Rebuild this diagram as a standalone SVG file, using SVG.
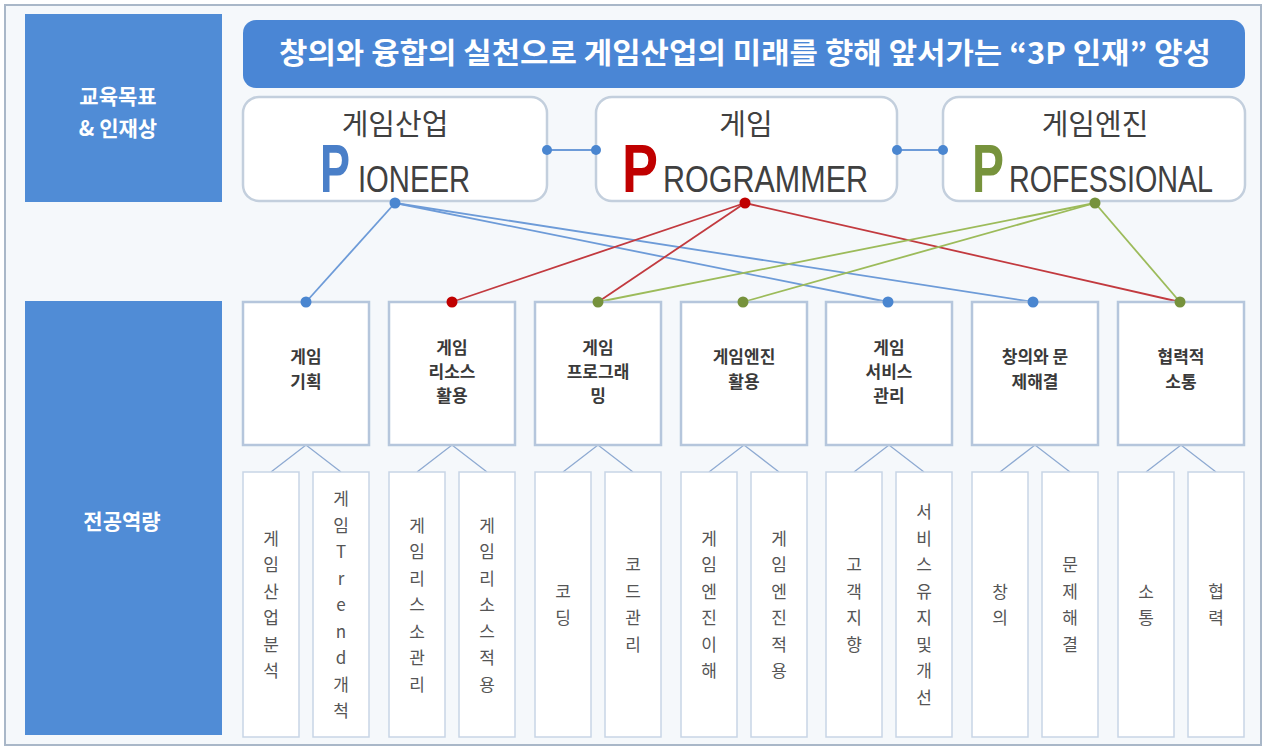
<svg xmlns="http://www.w3.org/2000/svg" width="1266" height="750" viewBox="0 0 1266 750">
<style>
.frame{fill:#f5f8fb;stroke:#a9b7c8;stroke-width:2}
.side{fill:#508cd6}
.side-t{font-family:"Noto Sans CJK KR","Noto Sans",sans-serif;font-weight:700;font-size:21px;fill:#ffffff;text-anchor:middle}
.banner{fill:#4a86d5}
.banner-t{font-family:"Noto Sans CJK KR","Noto Sans",sans-serif;font-weight:700;font-size:29px;fill:#ffffff;text-anchor:middle}
.pbox{fill:#ffffff;stroke:#c3cfdd;stroke-width:2.5}
.p-kr{font-family:"Noto Sans CJK KR","Noto Sans",sans-serif;font-size:29px;fill:#404040;text-anchor:middle}
.p-big{font-family:"Liberation Sans Narrow","Liberation Sans",sans-serif;font-weight:700;font-size:68px}
.p-rest{font-family:"Liberation Sans Narrow","Liberation Sans",sans-serif;font-size:36px;fill:#404040}
.comp{fill:#ffffff;stroke:#b5c6dc;stroke-width:2.5}
.comp-t{font-family:"Noto Sans CJK KR","Noto Sans",sans-serif;font-weight:700;font-size:17px;fill:#3a3a3a;text-anchor:middle}
.sub{fill:#ffffff;stroke:#c8d5e6;stroke-width:1.5}
.sub-t{font-family:"Noto Sans CJK KR","Noto Sans",sans-serif;font-size:17px;fill:#555555;text-anchor:middle}
.lb{stroke:#6d9bd8;stroke-width:1.8;fill:none}
.lr{stroke:#c23a3f;stroke-width:1.8;fill:none}
.lg{stroke:#9cbb5a;stroke-width:1.8;fill:none}
.ls{stroke:#8eaad2;stroke-width:1.3;fill:none}
.db{fill:#4a86d0}
.dr{fill:#c00000}
.dg{fill:#76923c}
</style>
<rect class="frame" x="5" y="5" width="1256" height="740"/>

<g id="side-goal">
<rect class="side" x="25" y="14" width="197" height="188"/>
<text class="side-t" x="118" y="104">교육목표</text>
<text class="side-t" x="118" y="136">&amp; 인재상</text>
</g>
<g id="side-comp">
<rect class="side" x="25" y="301" width="197" height="434"/>
<text class="side-t" x="122" y="529">전공역량</text>
</g>

<g id="banner">
<rect class="banner" x="243" y="20" width="1002" height="68" rx="13"/>
<text class="banner-t" x="745" y="64" textLength="932" lengthAdjust="spacingAndGlyphs">창의와 융합의 실천으로 게임산업의 미래를 향해 앞서가는 “3P 인재” 양성</text>
</g>

<g id="connectors">
<line class="lb" x1="547" y1="150" x2="596" y2="150"/>
<line class="lb" x1="897" y1="150" x2="943" y2="150"/>
<line class="lb" x1="395" y1="203" x2="306" y2="302"/>
<line class="lb" x1="395" y1="203" x2="888" y2="302"/>
<line class="lb" x1="395" y1="203" x2="1033" y2="302"/>
<line class="lr" x1="745" y1="203" x2="452" y2="302"/>
<line class="lr" x1="745" y1="203" x2="598" y2="302"/>
<line class="lr" x1="745" y1="203" x2="1180" y2="302"/>
<line class="lg" x1="1095" y1="203" x2="598" y2="302"/>
<line class="lg" x1="1095" y1="203" x2="743" y2="302"/>
<line class="lg" x1="1095" y1="203" x2="1180" y2="302"/>
<path class="ls" d="M271 472 L306 445 L341 472"/>
<path class="ls" d="M417 472 L452 445 L487 472"/>
<path class="ls" d="M563 472 L598 445 L633 472"/>
<path class="ls" d="M709 472 L744 445 L779 472"/>
<path class="ls" d="M854 472 L889 445 L924 472"/>
<path class="ls" d="M1000 472 L1035 445 L1070 472"/>
<path class="ls" d="M1146 472 L1181 445 L1216 472"/>
</g>

<g id="p-pioneer">
<rect class="pbox" x="243" y="97" width="304" height="104" rx="16"/>
<text class="p-kr" x="395" y="135">게임산업</text>
<text class="p-big" x="320" y="192" fill="#4a7fc8" textLength="30" lengthAdjust="spacingAndGlyphs">P</text>
<text class="p-rest" x="358" y="192" textLength="112" lengthAdjust="spacingAndGlyphs">IONEER</text>
</g>
<g id="p-programmer">
<rect class="pbox" x="596" y="97" width="301" height="104" rx="16"/>
<text class="p-kr" x="746" y="135">게임</text>
<text class="p-big" x="622" y="192" fill="#c00000" textLength="36" lengthAdjust="spacingAndGlyphs">P</text>
<text class="p-rest" x="663" y="192" textLength="205" lengthAdjust="spacingAndGlyphs">ROGRAMMER</text>
</g>
<g id="p-professional">
<rect class="pbox" x="943" y="97" width="302" height="104" rx="16"/>
<text class="p-kr" x="1095" y="135">게임엔진</text>
<text class="p-big" x="972" y="192" fill="#77933c" textLength="32" lengthAdjust="spacingAndGlyphs">P</text>
<text class="p-rest" x="1009" y="192" textLength="204" lengthAdjust="spacingAndGlyphs">ROFESSIONAL</text>
</g>

<g id="dots">
<circle class="db" cx="547" cy="150" r="5"/><circle class="db" cx="596" cy="150" r="5"/>
<circle class="db" cx="897" cy="150" r="5"/><circle class="db" cx="943" cy="150" r="5"/>
<circle class="db" cx="395" cy="203" r="5.5"/>
<circle class="dr" cx="745" cy="203" r="5.5"/>
<circle class="dg" cx="1095" cy="203" r="5.5"/>
</g>

<g id="comp-1">
<rect class="comp" x="243" y="302" width="126" height="143"/>
<text class="comp-t" x="306" y="363">게임</text><text class="comp-t" x="306" y="388">기획</text>
<circle class="db" cx="306" cy="302" r="5.5"/>
</g>
<g id="comp-2">
<rect class="comp" x="389" y="302" width="126" height="143"/>
<text class="comp-t" x="452" y="354">게임</text><text class="comp-t" x="452" y="378">리소스</text><text class="comp-t" x="452" y="402">활용</text>
<circle class="dr" cx="452" cy="302" r="5.5"/>
</g>
<g id="comp-3">
<rect class="comp" x="535" y="302" width="126" height="143"/>
<text class="comp-t" x="598" y="354">게임</text><text class="comp-t" x="598" y="378">프로그래</text><text class="comp-t" x="598" y="402">밍</text>
<circle class="dg" cx="598" cy="302" r="5.5"/>
</g>
<g id="comp-4">
<rect class="comp" x="681" y="302" width="126" height="143"/>
<text class="comp-t" x="744" y="363">게임엔진</text><text class="comp-t" x="744" y="388">활용</text>
<circle class="dg" cx="743" cy="302" r="5.5"/>
</g>
<g id="comp-5">
<rect class="comp" x="826" y="302" width="126" height="143"/>
<text class="comp-t" x="889" y="354">게임</text><text class="comp-t" x="889" y="378">서비스</text><text class="comp-t" x="889" y="402">관리</text>
<circle class="db" cx="888" cy="302" r="5.5"/>
</g>
<g id="comp-6">
<rect class="comp" x="972" y="302" width="126" height="143"/>
<text class="comp-t" x="1035" y="363">창의와 문</text><text class="comp-t" x="1035" y="388">제해결</text>
<circle class="db" cx="1033" cy="302" r="5.5"/>
</g>
<g id="comp-7">
<rect class="comp" x="1118" y="302" width="126" height="143"/>
<text class="comp-t" x="1181" y="363">협력적</text><text class="comp-t" x="1181" y="388">소통</text>
<circle class="dg" cx="1180" cy="302" r="5.5"/>
</g>

<g id="sub-1a"><rect class="sub" x="243" y="472" width="56" height="265"/>
<text class="sub-t" y="544.75"><tspan x="271">게</tspan><tspan x="271" dy="26.5">임</tspan><tspan x="271" dy="26.5">산</tspan><tspan x="271" dy="26.5">업</tspan><tspan x="271" dy="26.5">분</tspan><tspan x="271" dy="26.5">석</tspan></text></g>
<g id="sub-1b"><rect class="sub" x="313" y="472" width="56" height="265"/>
<text class="sub-t" y="505"><tspan x="341">게</tspan><tspan x="341" dy="26.5">임</tspan><tspan x="341" dy="26.5">T</tspan><tspan x="341" dy="26.5">r</tspan><tspan x="341" dy="26.5">e</tspan><tspan x="341" dy="26.5">n</tspan><tspan x="341" dy="26.5">d</tspan><tspan x="341" dy="26.5">개</tspan><tspan x="341" dy="26.5">척</tspan></text></g>
<g id="sub-2a"><rect class="sub" x="389" y="472" width="56" height="265"/>
<text class="sub-t" y="531.5"><tspan x="417">게</tspan><tspan x="417" dy="26.5">임</tspan><tspan x="417" dy="26.5">리</tspan><tspan x="417" dy="26.5">스</tspan><tspan x="417" dy="26.5">소</tspan><tspan x="417" dy="26.5">관</tspan><tspan x="417" dy="26.5">리</tspan></text></g>
<g id="sub-2b"><rect class="sub" x="459" y="472" width="56" height="265"/>
<text class="sub-t" y="531.5"><tspan x="487">게</tspan><tspan x="487" dy="26.5">임</tspan><tspan x="487" dy="26.5">리</tspan><tspan x="487" dy="26.5">소</tspan><tspan x="487" dy="26.5">스</tspan><tspan x="487" dy="26.5">적</tspan><tspan x="487" dy="26.5">용</tspan></text></g>
<g id="sub-3a"><rect class="sub" x="535" y="472" width="56" height="265"/>
<text class="sub-t" y="597.75"><tspan x="563">코</tspan><tspan x="563" dy="26.5">딩</tspan></text></g>
<g id="sub-3b"><rect class="sub" x="605" y="472" width="56" height="265"/>
<text class="sub-t" y="571.25"><tspan x="633">코</tspan><tspan x="633" dy="26.5">드</tspan><tspan x="633" dy="26.5">관</tspan><tspan x="633" dy="26.5">리</tspan></text></g>
<g id="sub-4a"><rect class="sub" x="681" y="472" width="56" height="265"/>
<text class="sub-t" y="544.75"><tspan x="709">게</tspan><tspan x="709" dy="26.5">임</tspan><tspan x="709" dy="26.5">엔</tspan><tspan x="709" dy="26.5">진</tspan><tspan x="709" dy="26.5">이</tspan><tspan x="709" dy="26.5">해</tspan></text></g>
<g id="sub-4b"><rect class="sub" x="751" y="472" width="56" height="265"/>
<text class="sub-t" y="544.75"><tspan x="779">게</tspan><tspan x="779" dy="26.5">임</tspan><tspan x="779" dy="26.5">엔</tspan><tspan x="779" dy="26.5">진</tspan><tspan x="779" dy="26.5">적</tspan><tspan x="779" dy="26.5">용</tspan></text></g>
<g id="sub-5a"><rect class="sub" x="826" y="472" width="56" height="265"/>
<text class="sub-t" y="571.25"><tspan x="854">고</tspan><tspan x="854" dy="26.5">객</tspan><tspan x="854" dy="26.5">지</tspan><tspan x="854" dy="26.5">향</tspan></text></g>
<g id="sub-5b"><rect class="sub" x="896" y="472" width="56" height="265"/>
<text class="sub-t" y="518.25"><tspan x="924">서</tspan><tspan x="924" dy="26.5">비</tspan><tspan x="924" dy="26.5">스</tspan><tspan x="924" dy="26.5">유</tspan><tspan x="924" dy="26.5">지</tspan><tspan x="924" dy="26.5">및</tspan><tspan x="924" dy="26.5">개</tspan><tspan x="924" dy="26.5">선</tspan></text></g>
<g id="sub-6a"><rect class="sub" x="972" y="472" width="56" height="265"/>
<text class="sub-t" y="597.75"><tspan x="1000">창</tspan><tspan x="1000" dy="26.5">의</tspan></text></g>
<g id="sub-6b"><rect class="sub" x="1042" y="472" width="56" height="265"/>
<text class="sub-t" y="571.25"><tspan x="1070">문</tspan><tspan x="1070" dy="26.5">제</tspan><tspan x="1070" dy="26.5">해</tspan><tspan x="1070" dy="26.5">결</tspan></text></g>
<g id="sub-7a"><rect class="sub" x="1118" y="472" width="56" height="265"/>
<text class="sub-t" y="597.75"><tspan x="1146">소</tspan><tspan x="1146" dy="26.5">통</tspan></text></g>
<g id="sub-7b"><rect class="sub" x="1188" y="472" width="56" height="265"/>
<text class="sub-t" y="597.75"><tspan x="1216">협</tspan><tspan x="1216" dy="26.5">력</tspan></text></g>
</svg>
